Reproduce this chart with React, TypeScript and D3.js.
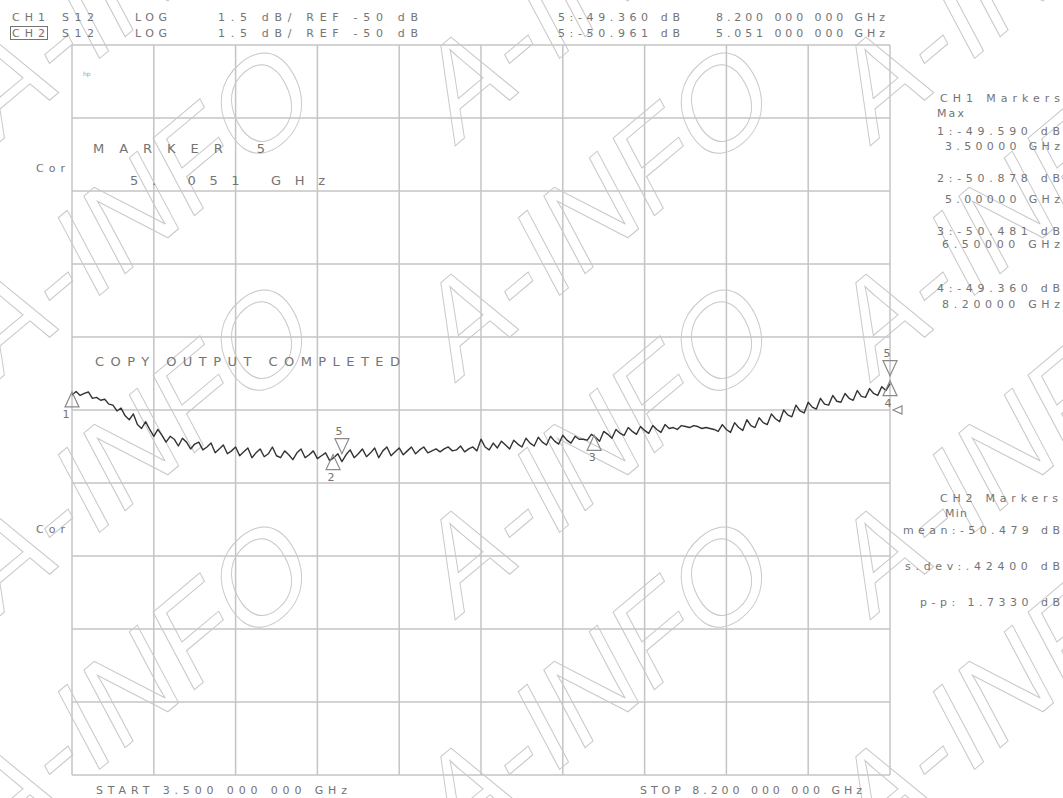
import React from 'react';
import * as d3 from 'd3';

const START_GHZ = 3.5;
const STOP_GHZ = 8.2;
const DB_PER_DIV = 1.5;
const DIVS = 10;
const Y_TOP_DB = -42.4;

// 201-point trace, dB
const traceDb = [
  -49.59, -49.52, -49.60, -49.56, -49.53, -49.66, -49.64, -49.70, -49.68, -49.78,
  -49.80, -49.92, -49.86, -50.02, -50.10, -49.98, -50.20, -50.28, -50.14, -50.30,
  -50.44, -50.30, -50.42, -50.56, -50.44, -50.50, -50.64, -50.48, -50.56, -50.70,
  -50.60, -50.56, -50.72, -50.66, -50.58, -50.78, -50.70, -50.62, -50.80, -50.74,
  -50.66, -50.84, -50.76, -50.68, -50.88, -50.78, -50.70, -50.86, -50.80, -50.66,
  -50.84, -50.88, -50.74, -50.82, -50.92, -50.78, -50.70, -50.88, -50.82, -50.74,
  -50.90, -50.84, -50.78, -50.94, -50.88, -50.80, -50.96, -50.82, -50.72, -50.88,
  -50.80, -50.70, -50.86, -50.78, -50.68, -50.88, -50.74, -50.66, -50.84, -50.76,
  -50.68, -50.82, -50.74, -50.66, -50.80, -50.72, -50.66, -50.78, -50.74, -50.70,
  -50.76, -50.70, -50.66, -50.74, -50.72, -50.64, -50.76, -50.70, -50.66, -50.74,
  -50.50, -50.66, -50.72, -50.58, -50.68, -50.54, -50.62, -50.70, -50.52, -50.60,
  -50.66, -50.48, -50.58, -50.64, -50.46, -50.56, -50.62, -50.44, -50.54, -50.60,
  -50.42, -50.52, -50.58, -50.44, -50.50, -50.50, -50.52, -50.40, -50.46, -50.54,
  -50.34, -50.40, -50.48, -50.30, -50.38, -50.42, -50.26, -50.34, -50.40, -50.24,
  -50.32, -50.38, -50.22, -50.30, -50.36, -50.20, -50.28, -50.26, -50.30, -50.22,
  -50.24, -50.26, -50.22, -50.24, -50.28, -50.26, -50.28, -50.30, -50.34, -50.20,
  -50.30, -50.36, -50.16, -50.26, -50.32, -50.10, -50.22, -50.26, -50.06, -50.16,
  -50.20, -49.98, -50.08, -50.14, -49.90, -50.00, -50.04, -49.80, -49.92, -49.96,
  -49.74, -49.84, -49.88, -49.66, -49.78, -49.80, -49.60, -49.72, -49.74, -49.56,
  -49.66, -49.70, -49.50, -49.62, -49.64, -49.46, -49.56, -49.60, -49.42, -49.50,
  -49.36,
];

// Markers (up triangles below the trace)
const markerIds = ['1', '2', '3', '4'];
const markerFreqs = [3.5, 5.0, 6.5, 8.2];
const markerVals = [-49.59, -50.878, -50.481, -49.36];
// Active marker 5 (down triangles above the trace)
const activeIds = ['5', '5'];
const activeFreqs = [5.051, 8.2];
const activeVals = [-50.961, -49.36];

const headerRow1 = ['CH1', 'S12', 'LOG', '1.5 dB/ REF -50 dB', '5:-49.360 dB', '8.200 000 000 GHz'];
const headerRow2 = ['CH2', 'S12', 'LOG', '1.5 dB/ REF -50 dB', '5:-50.961 dB', '5.051 000 000 GHz'];
const ch1Title = ['CH1 Markers', 'Max'];
const ch1Lines = ['1:-49.590 dB', '3.50000 GHz', '2:-50.878 dB', '5.00000 GHz', '3:-50.481 dB', '6.50000 GHz', '4:-49.360 dB', '8.20000 GHz'];
const ch2Title = ['CH2 Markers', 'Min'];
const ch2Lines = ['mean:-50.479 dB', 's.dev:.42400 dB', 'p-p: 1.7330 dB'];
const footer = ['START 3.500 000 000 GHz', 'STOP 8.200 000 000 GHz'];
const screenMsgs = ['MARKER 5', '5. 051 GHz', 'COPY OUTPUT COMPLETED'];
const watermarkText = 'A-INFO';

const W = 1063;
const H = 798;
const X0 = 72, X1 = 890, Y0 = 45, Y1 = 775;

const FONT = "'DejaVu Sans', sans-serif";
const TXT = '#747474';

export default function App() {
  const x = d3.scaleLinear().domain([START_GHZ, STOP_GHZ]).range([X0, X1]);
  const y = d3.scaleLinear().domain([Y_TOP_DB - DB_PER_DIV * DIVS, Y_TOP_DB]).range([Y1, Y0]);
  const xTicks = d3.range(DIVS + 1).map(i => START_GHZ + (i * (STOP_GHZ - START_GHZ)) / DIVS);
  const yTicks = d3.range(DIVS + 1).map(i => Y_TOP_DB - i * DB_PER_DIV);
  const n = traceDb.length;
  const pts: [number, number][] = traceDb.map((v, i) => [START_GHZ + (i * (STOP_GHZ - START_GHZ)) / (n - 1), v]);
  const line = d3.line<[number, number]>().x(d => x(d[0])).y(d => y(d[1]));

  const upTri = (cx: number, ay: number) => `M${cx},${ay} L${cx - 7},${ay + 15} L${cx + 7},${ay + 15} Z`;
  const downTri = (cx: number, ay: number) => `M${cx},${ay} L${cx - 7},${ay - 15} L${cx + 7},${ay - 15} Z`;

  // watermark tiling (start of each "A-INFO" copy)
  const wmCols = [-5, 455, 870];
  const wmRows = [146, 383, 620, 857];
  const wmAnchors: [number, number][] = [];
  wmCols.forEach(cx => wmRows.forEach(ry => wmAnchors.push([cx, ry])));

  const hdrX = [12, 62, 135, 218, 558, 716];
  const hdrLen = [33, 32, 32, 200, 122, 169];

  return (
    <div style={{ position: 'absolute', left: 0, top: 0 }}>
      <svg width={W} height={H} viewBox={`0 0 ${W} ${H}`} style={{ display: 'block', background: '#fff' }}>
        <rect x={0} y={0} width={W} height={H} fill="#fff" />
        {/* grid */}
        <g stroke="#c4c4c4" strokeWidth={1.5}>
          {xTicks.map((t, i) => (
            <line key={'vx' + i} x1={x(t)} x2={x(t)} y1={Y0} y2={Y1} />
          ))}
          {yTicks.map((t, i) => (
            <line key={'hy' + i} x1={X0} x2={X1} y1={y(t)} y2={y(t)} />
          ))}
        </g>
        {/* watermark */}
        <g fill="none" stroke="#c8c8c8" strokeWidth={1} fontFamily="'Liberation Sans', sans-serif" fontSize={125}>
          {wmAnchors.map((a, i) => (
            <text key={'wm' + i} transform={`translate(${a[0]},${a[1]}) rotate(-40) skewX(-12)`}>
              {watermarkText}
            </text>
          ))}
        </g>
        {/* trace */}
        <path d={line(pts) || ''} fill="none" stroke="#333" strokeWidth={1.4} strokeLinejoin="round" />
        {/* markers */}
        <g fill="none" stroke="#8a8a8a" strokeWidth={1.2}>
          {markerFreqs.map((f, i) => (
            <path key={'m' + i} d={upTri(x(f), y(markerVals[i]) - 3)} />
          ))}
          {activeFreqs.map((f, i) => (
            <path key={'a' + i} d={downTri(x(f), y(activeVals[i]) - 8)} />
          ))}
          <path d={`M${X1 + 3},${410} L${X1 + 12},${406} L${X1 + 12},${414} Z`} />
        </g>
        <g fill={TXT} fontFamily={FONT} fontSize={11}>
          {markerFreqs.map((f, i) => (
            <text key={'ml' + i} x={x(f) - (i === 0 ? 6 : 2)} y={y(markerVals[i]) + 23} textAnchor="middle">{markerIds[i]}</text>
          ))}
          {activeFreqs.map((f, i) => (
            <text key={'al' + i} x={x(f) - 3} y={y(activeVals[i]) - 27} textAnchor="middle">{activeIds[i]}</text>
          ))}
        </g>
        {/* header */}
        <g fill={TXT} fontFamily={FONT} fontSize={11}>
          {headerRow1.map((s, i) => (
            <text key={'h1' + i} x={hdrX[i]} y={21} textLength={hdrLen[i]} lengthAdjust="spacing">{s}</text>
          ))}
          {headerRow2.map((s, i) => (
            <text key={'h2' + i} x={hdrX[i]} y={37} textLength={hdrLen[i]} lengthAdjust="spacing">{s}</text>
          ))}
          <rect x={10.5} y={26.5} width={37} height={13} fill="none" stroke={TXT} strokeWidth={1} />
        </g>
        <text x={83} y={76} fill="#999" fontFamily={FONT} fontSize={6}>hp</text>
        {/* left labels */}
        <g fill={TXT} fontFamily={FONT} fontSize={11}>
          <text x={36} y={172} textLength={29} lengthAdjust="spacing">Cor</text>
          <text x={36} y={533} textLength={29} lengthAdjust="spacing">Cor</text>
        </g>
        {/* screen messages */}
        <g fill={TXT} fontFamily={FONT} fontSize={13}>
          <text x={93} y={153} textLength={172} lengthAdjust="spacing">{screenMsgs[0]}</text>
          <text x={130} y={185} textLength={195} lengthAdjust="spacing">{screenMsgs[1]}</text>
          <text x={95} y={366} textLength={305} lengthAdjust="spacing">{screenMsgs[2]}</text>
        </g>
        {/* right panel */}
        <g fill={TXT} fontFamily={FONT} fontSize={11}>
          <text x={940} y={102} textLength={120} lengthAdjust="spacing">{ch1Title[0]}</text>
          <text x={937} y={117} textLength={27} lengthAdjust="spacing">{ch1Title[1]}</text>
          {ch1Lines.map((s, i) => {
            const ys = [135, 150, 182, 203, 235, 248, 292, 308];
            const xs = [937, 945, 937, 945, 937, 942, 937, 942];
            return (
              <text key={'c1' + i} x={xs[i]} y={ys[i]} textLength={1060 - xs[i]} lengthAdjust="spacing">{s}</text>
            );
          })}
          <text x={940} y={502} textLength={118} lengthAdjust="spacing">{ch2Title[0]}</text>
          <text x={945} y={517} textLength={22} lengthAdjust="spacing">{ch2Title[1]}</text>
          {ch2Lines.map((s, i) => {
            const ys = [534, 570, 606];
            const xs = [903, 905, 920];
            return (
              <text key={'c2' + i} x={xs[i]} y={ys[i]} textLength={1060 - xs[i]} lengthAdjust="spacing">{s}</text>
            );
          })}
        </g>
        {/* footer */}
        <g fill={TXT} fontFamily={FONT} fontSize={11}>
          <text x={96} y={794} textLength={251} lengthAdjust="spacing">{footer[0]}</text>
          <text x={640} y={794} textLength={222} lengthAdjust="spacing">{footer[1]}</text>
        </g>
      </svg>
    </div>
  );
}
